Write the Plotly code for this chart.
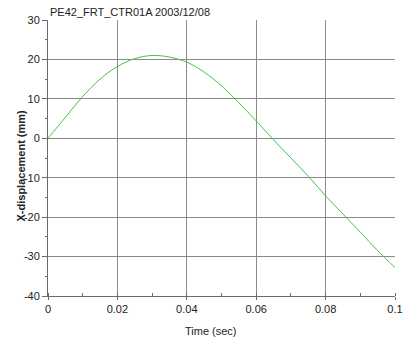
import plotly.graph_objects as go

time_s = [0.0, 0.005, 0.01, 0.015, 0.02, 0.025, 0.03, 0.035, 0.04, 0.045, 0.05,
          0.055, 0.06, 0.065, 0.07, 0.075, 0.08, 0.085, 0.09, 0.095, 0.1]
x_disp = [0.0, 5.3, 10.6, 15.0, 18.2, 20.2, 21.0, 20.6, 19.3, 16.8, 13.3,
          9.0, 4.4, -0.4, -5.0, -9.6, -14.6, -19.2, -23.8, -28.5, -32.8]
x_ticks = [0, 0.02, 0.04, 0.06, 0.08, 0.1]
x_ticklabels = ["0", "0.02", "0.04", "0.06", "0.08", "0.1"]
y_ticks = [30, 20, 10, 0, -10, -20, -30, -40]
y_ticklabels = ["30", "20", "10", "0", "-10", "-20", "-30", "-40"]

title_text = "PE42_FRT_CTR01A 2003/12/08"
x_title = "Time (sec)"
y_title = "X-displacement (mm)"

FONT = "Liberation Sans, Arial, sans-serif"
FS = 11
TXT = "#222222"

W, H = 403, 340
PL, PR, PT, PB = 47.5, 395.5, 20, 296   # plot area in page pixels
L, T = PL, PT
R, B = W - PR, H - PB

fig = go.Figure()
fig.add_trace(go.Scatter(x=time_s, y=x_disp, mode="lines",
                         line=dict(color="#46c246", width=1, shape="spline"),
                         hoverinfo="skip"))

fig.update_layout(
    template="none",
    width=W, height=H,
    margin=dict(l=L, r=R, t=T, b=B, pad=0),
    paper_bgcolor="white", plot_bgcolor="white",
    showlegend=False,
    font=dict(family=FONT, size=FS, color=TXT),
    xaxis=dict(range=[0, 0.1], tickvals=x_ticks, ticktext=x_ticklabels, automargin=False,
               showgrid=True, gridcolor="#8a8a8a", gridwidth=1,
               showline=True, linecolor="#6a6a6a", linewidth=1, mirror=False,
               ticks="outside", ticklen=3, tickcolor="#6a6a6a", tickwidth=1,
               tickfont=dict(family=FONT, size=FS, color=TXT),
               minor=dict(dtick=0.01, ticks="inside", ticklen=3, tickcolor="#6a6a6a", showgrid=False),
               zeroline=False, fixedrange=True),
    yaxis=dict(range=[-40, 30], tickvals=y_ticks, ticktext=y_ticklabels, automargin=False,
               showgrid=True, gridcolor="#8a8a8a", gridwidth=1,
               showline=True, linecolor="#6a6a6a", linewidth=1,
               ticks="outside", ticklen=5, tickcolor="#6a6a6a", tickwidth=1,
               tickfont=dict(family=FONT, size=FS, color=TXT),
               minor=dict(dtick=5, ticks="outside", ticklen=2, tickcolor="#6a6a6a", showgrid=False),
               zeroline=False, fixedrange=True),
    annotations=[
        dict(text=title_text, xref="paper", yref="paper", x=0, y=1, xanchor="left",
             yanchor="middle", yshift=(PT - 11.5), showarrow=False, font=dict(size=FS, color=TXT)),
        dict(text=x_title, xref="paper", yref="paper", x=(211 - PL) / (PR - PL), y=0,
             xanchor="center", yanchor="middle", yshift=-(331 - PB), showarrow=False,
             font=dict(size=FS, color=TXT)),
        dict(text="<b>" + y_title + "</b>", xref="paper", yref="paper", x=0,
             y=1 - (166 - PT) / (PB - PT), xanchor="center", yanchor="middle",
             xshift=-(PL - 20), textangle=-90, showarrow=False,
             font=dict(size=FS, color=TXT)),
    ],
)

fig.write_html("out.html",
               config={"displayModeBar": False, "staticPlot": True},
               post_script="document.body.style.margin='0';document.body.style.overflow='hidden';")
